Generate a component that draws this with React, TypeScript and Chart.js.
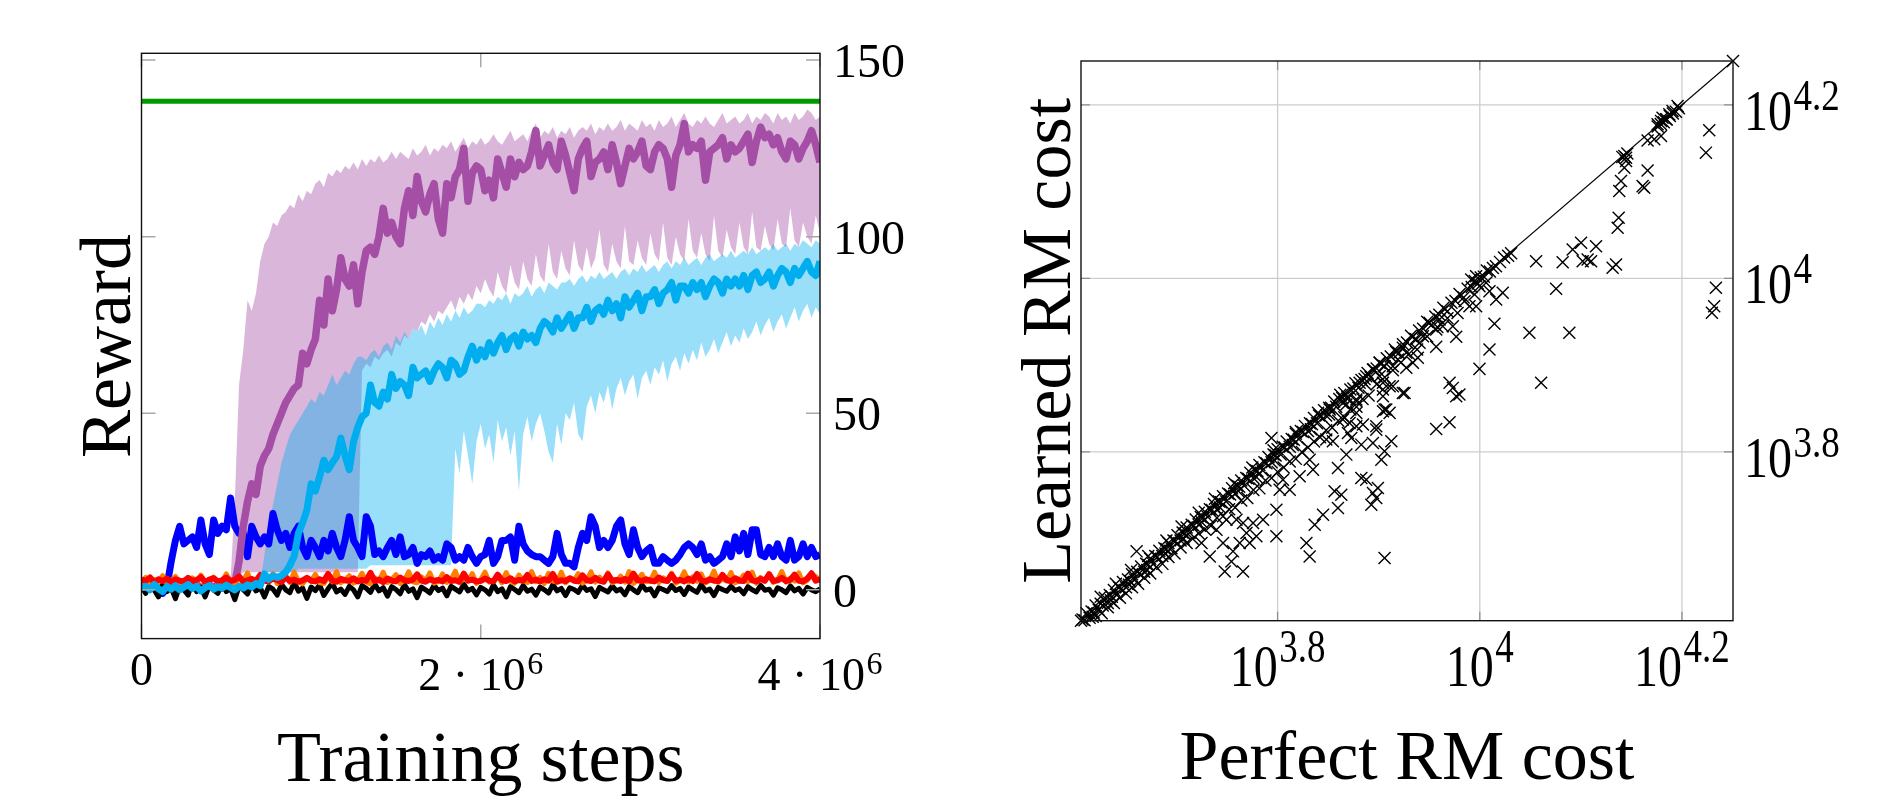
import React, { useEffect, useRef } from 'react';
import { Chart, registerables } from 'chart.js';

Chart.register(...registerables);

const SERIF = '"Liberation Serif", "Times New Roman", Times, serif';

// ---------------- Left chart: reward vs training steps ----------------
const trainingStepsK = [
  0, 25, 50, 75, 100, 125, 150, 175, 200, 225,
  250, 275, 300, 325, 350, 375, 400, 425, 450, 475,
  500, 525, 550, 575, 600, 625, 650, 675, 700, 725,
  750, 775, 800, 825, 850, 875, 900, 925, 950, 975,
  1000, 1025, 1050, 1075, 1100, 1125, 1150, 1175, 1200, 1225,
  1250, 1275, 1300, 1325, 1350, 1375, 1400, 1425, 1450, 1475,
  1500, 1525, 1550, 1575, 1600, 1625, 1650, 1675, 1700, 1725,
  1750, 1775, 1800, 1825, 1850, 1875, 1900, 1925, 1950, 1975,
  2000, 2025, 2050, 2075, 2100, 2125, 2150, 2175, 2200, 2225,
  2250, 2275, 2300, 2325, 2350, 2375, 2400, 2425, 2450, 2475,
  2500, 2525, 2550, 2575, 2600, 2625, 2650, 2675, 2700, 2725,
  2750, 2775, 2800, 2825, 2850, 2875, 2900, 2925, 2950, 2975,
  3000, 3025, 3050, 3075, 3100, 3125, 3150, 3175, 3200, 3225,
  3250, 3275, 3300, 3325, 3350, 3375, 3400, 3425, 3450, 3475,
  3500, 3525, 3550, 3575, 3600, 3625, 3650, 3675, 3700, 3725,
  3750, 3775, 3800, 3825, 3850, 3875, 3900, 3925, 3950, 3975,
  4000,
];

const greenStepsK = [0, 4000];
const greenReward = [138.3, 138.3];

const purpleMean = [
  1, 0.5, 1.5, 0.8, 1.2, 0.3, 1, 1.6, 0.7, 1.1,
  0.4, 1.3, 0.9, 1.5, 0.6, 1, 1.4, 0.8, 1.2, 0.5,
  1.6, 1, 1.8, 8, 18, 25, 30, 27, 35, 38,
  40, 44, 47, 50, 53, 55, 57, 58, 67, 64,
  68, 71, 82, 75, 88, 79, 85, 94, 88, 86,
  92, 81, 90, 96, 97, 95, 100, 108, 101, 104,
  100, 98, 108, 113, 106, 117, 110, 107, 112, 115,
  105, 101, 115, 111, 117, 119, 125, 110, 118, 120,
  119, 113, 116, 111, 122, 118, 114, 122, 117, 121,
  119, 120, 124, 130, 120, 123, 126, 121, 119, 127,
  123, 118, 113, 122, 125, 127, 117, 121, 122, 124,
  119, 126, 121, 115, 120, 125, 122, 124, 127, 120,
  119, 124, 126, 125, 122, 114, 123, 126, 132, 124,
  126, 125, 127, 116, 124, 125, 126, 128, 122, 126,
  124, 125, 127, 129, 121, 127, 131, 128, 129, 126,
  128, 124, 122, 127, 126, 122, 125, 127, 130, 126,
  121,
];
const purpleUpper = [
  2, 1.5, 2.5, 2, 2.2, 1.5, 2, 2.6, 1.8, 2.1,
  1.5, 2.3, 2, 2.5, 1.6, 2, 2.4, 1.9, 2.2, 1.5,
  2.6, 3, 25, 58, 68, 82, 79, 84, 93, 98,
  100, 104, 103, 106, 107, 109, 108, 112, 110, 113,
  112, 115, 116, 114, 118, 117, 119, 118, 120, 119,
  121, 119, 122, 120, 122, 121, 123, 121, 122, 124,
  122, 124, 123, 122, 125, 123, 124, 126, 123, 125,
  124, 126, 125, 127, 124, 126, 128, 125, 127, 126,
  128, 126, 127, 129, 127, 126, 128, 130, 127, 128,
  129, 127, 130, 132, 128, 130, 129, 131, 128, 130,
  129, 131, 128, 130, 131, 130, 132, 129, 131, 130,
  132, 130, 131, 133, 130, 132, 131, 130, 133, 131,
  132, 130, 133, 131, 132, 134, 131, 133, 135, 132,
  131, 133, 132, 134, 132, 131, 133, 135, 132, 133,
  134, 132, 133, 135, 132, 134, 133, 135, 134, 132,
  135, 133, 134, 132, 135, 133, 134, 136, 135, 133,
  134,
];
const purpleLower = [
  0, -0.5, 0.5, 0, 0.2, -0.5, 0, 0.6, -0.2, 0.1,
  -0.5, 0.3, 0, 0.5, -0.4, 0, 0.4, -0.1, 0.2, -0.5,
  0.6, 0, 1, 4, 5, 5, 5, 5, 5, 5,
  5, 5, 5, 5, 5, 5, 5, 5, 5, 5,
  5, 5, 5, 5, 5, 5, 5, 5, 5, 5,
  5, 5, 62, 64, 63, 66, 65, 67, 68, 66,
  70, 69, 72, 71, 74, 73, 76, 75, 78, 76,
  79, 78, 80, 82, 79, 83, 81, 84, 82, 86,
  84, 88, 85, 83, 90, 86, 84, 92, 87, 85,
  93, 88, 86, 95, 89, 87, 98, 90, 88, 96,
  91, 89, 99, 92, 90, 97, 91, 94, 102, 92,
  90, 98, 93, 91, 103, 93, 92, 99, 94, 92,
  101, 95, 93, 104, 94, 92, 100, 95, 93, 105,
  96, 94, 101, 95, 93, 106, 96, 94, 102, 97,
  95, 104, 97, 95, 107, 97, 96, 103, 98, 96,
  105, 98, 97, 108, 99, 97, 104, 100, 98, 106,
  101,
];

const cyanMean = [
  0.5, 1, 0, 1.5, 0.3, -0.5, 1, 0.2, 1.2, 0,
  0.8, 1.5, 0.4, 1, -0.3, 0.6, 1.2, 0.2, 0.9, 0.5,
  1.3, 0.7, 0, 1, 0.5, 1.4, 0.8, 1.8, 1.2, 4.5,
  3, 4, 3.5, 4, 5, 7, 9.5, 16, 19, 22.6,
  30, 28, 32, 36.7, 34, 36, 37.7, 43, 38, 34,
  42, 46, 49, 50, 58, 53, 52, 56, 54, 61,
  57, 59, 58, 55, 63, 60, 61, 62, 59, 62,
  64, 63, 60, 65, 64, 61, 62, 66, 69, 65,
  68, 66, 70, 67, 70, 72, 68, 71, 72, 69,
  73, 71, 72, 70, 74, 76, 75, 73, 77, 74,
  76, 78, 74, 77, 77, 80, 76, 79, 80, 78,
  82, 79, 81, 77, 83, 80, 82, 84, 79, 83,
  83, 85, 81, 84, 85, 87, 82, 86, 86, 84,
  87, 85, 87, 83, 86, 88, 87, 84, 88, 86,
  88, 86, 89, 85, 89, 90, 87, 88, 90, 86,
  89, 91, 90, 87, 91, 89, 91, 93, 90, 89,
  93,
];
const cyanUpper = [
  1.5, 2, 1, 2.5, 1.3, 0.5, 2, 1.2, 2.2, 1,
  1.8, 2.5, 1.4, 2, 0.7, 1.6, 2.2, 1.2, 1.9, 1.5,
  2.3, 1.7, 1, 2, 1.5, 2.4, 1.8, 2.8, 2.2, 10,
  18, 24, 30, 36, 40, 44, 46, 48, 50, 52,
  54, 53, 56, 55, 58, 61, 58, 60, 62, 61,
  64, 66, 66, 65, 67, 68, 66, 69, 70, 68,
  72, 70, 73, 71, 74, 73, 75, 72, 76, 74,
  77, 75, 78, 76, 79, 77, 80, 78, 79, 81,
  81, 80, 82, 81, 83, 82, 84, 81, 84, 83,
  84, 86, 83, 85, 86, 84, 87, 86, 85, 87,
  87, 88, 86, 88, 89, 87, 89, 88, 90, 88,
  89, 90, 88, 90, 91, 89, 91, 90, 92, 90,
  91, 92, 90, 92, 93, 91, 93, 92, 94, 92,
  93, 94, 92, 94, 95, 93, 94, 95, 94, 96,
  94, 95, 96, 95, 97, 95, 96, 97, 96, 98,
  96, 97, 98, 96, 98, 97, 99, 98, 97, 99,
  98,
];
const cyanLower = [
  -0.5, 0, -1, 0.5, -0.7, -1.5, 0, -0.8, 0.2, -1,
  -0.2, 0.5, -0.6, 0, -1.3, -0.4, 0.2, -0.8, -0.1, -0.5,
  0.3, -0.3, -1, 0, -0.5, 0.4, -0.2, 0.8, 0.2, 5,
  5, 5, 5, 5, 5, 5, 5, 6, 6, 6,
  6, 6, 6, 6, 6, 6, 6, 6, 6, 6,
  6, 6, 6, 6, 7, 7, 7, 7, 7, 7,
  7, 7, 7, 7, 7, 7, 7, 7, 7, 7,
  7, 7, 7, 7, 40, 33, 45, 38, 30, 42,
  47, 40, 44, 36, 48, 42, 46, 38, 45, 28,
  44, 49, 42, 47, 50, 45, 39, 36, 47, 41,
  50, 48, 53, 44, 42, 52, 55, 50, 56, 53,
  58, 51, 57, 60, 55, 59, 61, 54, 60, 62,
  58, 63, 61, 65, 59, 64, 66, 62, 67, 64,
  68, 65, 70, 66, 68, 71, 67, 70, 73, 69,
  72, 70, 74, 71, 73, 76, 72, 75, 77, 73,
  76, 78, 74, 77, 80, 76, 79, 81, 77, 80,
  78,
];

const blueReward = [
  2, 1, 3, 0.5, 2, -1, 1, 8, 14, 18,
  13, 14, 15, 12, 19.8, 13, 10, 19.8, 16, 18,
  17, 26, 18, 16, 16, 9.4, 18, 15, 13, 15,
  13, 21.6, 17, 14, 16, 12, 16, 18, 12, 9.4,
  14, 12, 9.4, 14, 11, 16, 12, 9.4, 14, 20.7,
  14, 12, 9.4, 20.7, 18, 10, 11, 9.4, 12, 14,
  10, 15, 9.4, 10, 12, 7.5, 10, 9.4, 11, 8.4,
  9.4, 8.4, 13, 12, 8.4, 9.4, 8.4, 12, 9.4, 7.5,
  9.4, 10, 14, 7.5, 9.4, 14, 14, 15, 8.4, 18,
  13, 11, 10, 9.4, 9.4, 8.4, 7.5, 9.4, 16, 10,
  7.5, 7.5, 6.5, 12, 16, 14, 20.7, 18, 12, 14,
  12, 14, 18, 19.8, 13, 10, 17, 12, 9.4, 11,
  12, 7.5, 7.5, 9.4, 8.4, 7.5, 8.4, 10, 12, 13,
  12, 10, 13, 8.4, 9.4, 7.5, 8.4, 9.4, 13, 9.4,
  15, 11, 16, 10, 17, 17, 10, 9.4, 12, 9.4,
  13, 9.4, 8.4, 14, 8.4, 9.4, 13, 9.4, 12, 9.4,
  10,
];
const redReward = [
  3, 2.5, 3.5, 2, 3, 2.5, 3.2, 2.2, 3, 2.6,
  2.4, 3.4, 2.5, 2.8, 3.6, 2.2, 2.9, 3.3, 2.4, 2.7,
  3.5, 2.5, 2.8, 3.8, 2.3, 2.7, 3.1, 2.5, 4.2, 2.6,
  2.4, 3.2, 2.8, 2.2, 3.6, 2.5, 2.9, 2.3, 2.7, 3.4,
  2.6, 2.4, 3, 2.5, 4.5, 2.6, 2.3, 3.1, 2.7, 2.5,
  3.3, 2.4, 2.8, 2.6, 4.8, 2.5, 2.9, 2.2, 3.2, 2.6,
  2.4, 3.5, 2.7, 2.5, 2.9, 4.4, 2.6, 2.3, 3, 2.5,
  2.8, 2.4, 3.6, 2.5, 2.7, 2.3, 4.6, 2.6, 2.9, 2.4,
  2.5, 3.2, 2.6, 2.4, 4.3, 2.7, 2.5, 3.3, 2.4, 2.8,
  2.6, 4.2, 2.5, 2.9, 2.4, 3, 2.6, 4.5, 2.3, 2.7,
  2.5, 3.3, 2.6, 2.4, 4.1, 2.7, 2.5, 3.4, 2.6, 2.3,
  4.4, 2.6, 2.8, 2.5, 3.1, 2.4, 4.6, 2.7, 2.5, 3,
  2.6, 2.4, 3.5, 2.7, 2.5, 4.3, 2.6, 2.8, 2.4, 3.2,
  2.5, 4.5, 2.7, 2.4, 3, 2.6, 2.5, 4.2, 2.8, 2.4,
  3.3, 2.6, 2.5, 4.6, 2.7, 2.4, 3.1, 2.6, 4.4, 2.5,
  2.7, 3.4, 2.5, 2.8, 4.3, 2.6, 2.4, 3.2, 4.7, 2.6,
  3,
];
const orangeReward = [
  2, 3.5, 1.5, 3, 2.2, 4, 1.8, 2.6, 3.8, 2,
  2.8, 1.6, 3.4, 2.2, 4.2, 1.9, 2.7, 3.6, 2, 2.5,
  4.5, 2.1, 1.7, 3.2, 2.4, 4.8, 2, 2.9, 1.6, 3.5,
  2.2, 4.6, 1.8, 2.7, 3.9, 2.1, 5, 2.4, 1.7, 3.3,
  2.5, 4.4, 2, 1.8, 3.6, 2.3, 5.2, 2, 2.8, 4,
  1.9, 2.6, 4.7, 2.2, 1.7, 3.4, 2.5, 5, 2.1, 2.9,
  4.3, 1.8, 2.7, 5.1, 2.3, 2, 3.7, 2.6, 4.8, 1.9,
  2.4, 4.5, 2.1, 2.8, 5.3, 2, 3.2, 2.5, 4.6, 1.8,
  2.9, 5, 2.2, 2.6, 3.8, 2, 4.9, 2.4, 1.9, 4.2,
  2.6, 2.1, 5.2, 2.3, 3.5, 1.8, 4.7, 2.5, 2.2, 5,
  2, 3.3, 2.6, 4.6, 1.9, 2.7, 5.1, 2.2, 3.6, 2.4,
  4.8, 2, 2.5, 3.9, 2.2, 5.2, 1.8, 2.9, 4.4, 2.3,
  2.6, 5, 2.1, 3.4, 2.5, 4.7, 1.9, 2.8, 5.1, 2.2,
  3.7, 2.4, 4.5, 2, 2.7, 5.3, 2.1, 3.1, 2.5, 4.9,
  2, 2.6, 4.2, 2.3, 5, 1.9, 3.5, 2.4, 4.6, 2.1,
  2.8, 5.2, 2.2, 3.3, 2.5, 4.8, 2, 2.7, 4.4, 3.8,
  2.5,
];
const blackReward = [
  1, -1, 2, 0, -2, 1.5, -0.5, 0.5, -2.5, 1,
  0, -1.5, 2.5, -0.5, 0.8, -2, 1.2, 0, -1, 2,
  -0.5, 0.5, -2.8, 1, 0, -1.2, 1.8, -0.3, 0.6, -2,
  1, 0.2, -1.5, 1.6, 0, -0.8, 2.2, -0.4, 0.5, -2.4,
  0.8, -0.2, 1.4, -1.6, 0.3, 1.9, -0.6, 0.2, -1.3, 1,
  0, -2, 1.2, 0.4, -0.7, 1.7, -0.3, 0.6, -1.8, 0.9,
  0.1, -1.1, 1.5, -0.4, 0.3, -2.2, 0.8, 0, -0.9, 1.3,
  -0.2, 0.5, -1.7, 1, 0.2, -0.6, 1.6, -0.3, 0.4, -1.4,
  0.7, 0, -1.2, 1.4, -0.5, 0.3, -2, 0.9, 0.1, -0.8,
  1.2, -0.4, 0.2, -1.5, 0.8, 0, -0.9, 1.5, -0.3, 0.4,
  -1.6, 0.6, 0.1, -0.7, 1.3, -0.2, 0.3, -1.9, 0.7, 0,
  -0.6, 1.1, -0.3, 0.2, -1.4, 0.9, 0, -0.8, 1.4, -0.1,
  0.3, -1.7, 0.6, 0.1, -0.5, 1.2, -0.2, 0.4, -1.3, 0.8,
  0, -0.7, 1.5, -0.3, 0.2, -1.6, 0.7, 0.1, -0.4, 1,
  -0.2, 0.3, -1.1, 0.9, 0, -0.6, 1.3, -0.1, 0.2, -1.5,
  0.6, 0, -0.8, 1.1, -0.3, 0.4, -1.2, 0.7, 0, -0.5,
  0.3,
];

const rewardTicks = [0, 50, 100, 150];
const rewardTickLabels = ['0', '50', '100', '150'];
const stepTicksK = [0, 2000, 4000];
const stepTickBase = ['0', '2 · 10', '4 · 10'];
const stepTickExp = ['', '6', '6'];
const rewardRange = [-13.8, 151.9];
const stepRangeK = [0, 4000];
const rewardTitle = 'Reward';
const stepsTitle = 'Training steps';

// ---------------- Right chart: learned vs perfect RM cost (log10 values) ----------------
const costAxisLog10 = [3.6055, 4.2505];
const costTickLog10 = [3.8, 4, 4.2];
const costTickBase = ['10', '10', '10'];
const costTickExp = ['3.8', '4', '4.2'];
const perfectTitle = 'Perfect RM cost';
const learnedTitle = 'Learned RM cost';

// [log10 perfect cost, log10 learned cost]
const nearDiagonal: [number, number][] = [
  [3.607, 3.607], [3.609, 3.606], [3.611, 3.614], [3.614, 3.609], [3.616, 3.616], [3.618, 3.615], [3.620, 3.623], [3.623, 3.618],
  [3.625, 3.625], [3.627, 3.623], [3.629, 3.632], [3.632, 3.626], [3.634, 3.635], [3.636, 3.633], [3.638, 3.641], [3.641, 3.635],
  [3.643, 3.644], [3.645, 3.642], [3.647, 3.650], [3.650, 3.644], [3.652, 3.653], [3.654, 3.651], [3.656, 3.659], [3.659, 3.653],
  [3.661, 3.662], [3.663, 3.660], [3.665, 3.668], [3.668, 3.662], [3.670, 3.671], [3.672, 3.670], [3.674, 3.677], [3.677, 3.671],
  [3.679, 3.680], [3.681, 3.679], [3.683, 3.686], [3.686, 3.680], [3.688, 3.689], [3.690, 3.688], [3.692, 3.695], [3.695, 3.689],
  [3.697, 3.698], [3.699, 3.697], [3.701, 3.704], [3.704, 3.698], [3.706, 3.707], [3.708, 3.706], [3.710, 3.713], [3.713, 3.707],
  [3.715, 3.716], [3.717, 3.715], [3.719, 3.722], [3.722, 3.716], [3.724, 3.725], [3.726, 3.724], [3.728, 3.731], [3.731, 3.725],
  [3.733, 3.734], [3.735, 3.733], [3.737, 3.740], [3.740, 3.734], [3.742, 3.743], [3.744, 3.742], [3.746, 3.749], [3.749, 3.743],
  [3.751, 3.752], [3.753, 3.751], [3.755, 3.758], [3.758, 3.752], [3.760, 3.761], [3.762, 3.760], [3.764, 3.767], [3.767, 3.761],
  [3.769, 3.770], [3.771, 3.769], [3.773, 3.776], [3.776, 3.770], [3.778, 3.779], [3.780, 3.778], [3.782, 3.785], [3.785, 3.779],
  [3.787, 3.788], [3.789, 3.787], [3.791, 3.794], [3.794, 3.788], [3.796, 3.797], [3.798, 3.796], [3.800, 3.803], [3.803, 3.797],
  [3.805, 3.806], [3.807, 3.805], [3.809, 3.812], [3.812, 3.806], [3.814, 3.815], [3.816, 3.814], [3.818, 3.821], [3.821, 3.815],
  [3.823, 3.824], [3.825, 3.823], [3.827, 3.830], [3.830, 3.824], [3.832, 3.833], [3.834, 3.832], [3.836, 3.839], [3.839, 3.833],
  [3.841, 3.842], [3.843, 3.841], [3.846, 3.848], [3.848, 3.842], [3.851, 3.851], [3.853, 3.851], [3.856, 3.858], [3.858, 3.852],
  [3.861, 3.861], [3.864, 3.862], [3.866, 3.868], [3.869, 3.863], [3.872, 3.872], [3.875, 3.873], [3.877, 3.879], [3.880, 3.874],
  [3.883, 3.883], [3.886, 3.884], [3.889, 3.891], [3.892, 3.886], [3.895, 3.895], [3.898, 3.896], [3.901, 3.903], [3.905, 3.899],
  [3.908, 3.908], [3.912, 3.910], [3.916, 3.918], [3.920, 3.914], [3.924, 3.924], [3.928, 3.926], [3.932, 3.934], [3.936, 3.930],
  [3.940, 3.940], [3.944, 3.942], [3.948, 3.950], [3.952, 3.946], [3.956, 3.956], [3.960, 3.958], [3.964, 3.966], [3.968, 3.962],
  [3.972, 3.972], [3.976, 3.974], [3.980, 3.982], [3.984, 3.978], [3.988, 3.988], [3.992, 3.990], [3.995, 3.997], [3.998, 3.994],
  [4.001, 4.001], [4.004, 4.002], [4.007, 4.009],
  [3.620, 3.611], [3.626, 3.614], [3.632, 3.621], [3.638, 3.626], [3.644, 3.632], [3.650, 3.637], [3.656, 3.644], [3.662, 3.648],
  [3.668, 3.655], [3.674, 3.660], [3.680, 3.667], [3.686, 3.671], [3.692, 3.679], [3.698, 3.683], [3.704, 3.690], [3.710, 3.695],
  [3.716, 3.700], [3.722, 3.706], [3.728, 3.711], [3.734, 3.715], [3.740, 3.724], [3.746, 3.726], [3.752, 3.734], [3.758, 3.736],
  [3.764, 3.744], [3.770, 3.747], [3.776, 3.756], [3.782, 3.758], [3.788, 3.767], [3.794, 3.770], [3.800, 3.777], [3.806, 3.782],
  [3.812, 3.789], [3.818, 3.792], [3.824, 3.800], [3.830, 3.805], [3.836, 3.812], [3.842, 3.817], [3.848, 3.825], [3.854, 3.828],
  [3.860, 3.836], [3.866, 3.840], [3.872, 3.849], [3.878, 3.852], [3.884, 3.861], [3.890, 3.865], [3.898, 3.878], [3.906, 3.886],
  [3.914, 3.894], [3.922, 3.903], [3.930, 3.913], [3.938, 3.918], [3.948, 3.933], [3.958, 3.944], [3.968, 3.954], [3.978, 3.960],
  [3.625, 3.633], [3.640, 3.648], [3.655, 3.664], [3.672, 3.680], [3.690, 3.698], [3.705, 3.714], [3.722, 3.730], [3.738, 3.746],
  [3.757, 3.764], [3.775, 3.782], [3.796, 3.802], [3.818, 3.823], [3.840, 3.845], [3.862, 3.866],
  [3.617, 3.610], [3.635, 3.629], [3.653, 3.647], [3.671, 3.664], [3.689, 3.683], [3.707, 3.700], [3.725, 3.719], [3.743, 3.736],
  [3.761, 3.755], [3.779, 3.771], [3.797, 3.790], [3.815, 3.808], [3.833, 3.826], [3.851, 3.843], [3.869, 3.861], [3.887, 3.878],
  [4.010, 4.008], [4.013, 4.012], [4.016, 4.014], [4.020, 4.019], [4.024, 4.024], [4.028, 4.026], [4.031, 4.029],
  [4.141, 4.140], [4.143, 4.141], [4.146, 4.144], [4.176, 4.175], [4.179, 4.178], [4.182, 4.180], [4.185, 4.183],
  [4.188, 4.187], [4.191, 4.190], [4.194, 4.192], [4.197, 4.196],
];

const offDiagonal: [number, number][] = [
  [3.6605, 3.6854], [3.7939, 3.8161], [3.7988, 3.7334], [3.7988, 3.7027], [3.7329, 3.6796], [3.7477, 3.6623],
  [3.7658, 3.6623], [3.7543, 3.6738], [3.7559, 3.6854], [3.746, 3.695], [3.7625, 3.695], [3.7724, 3.695],
  [3.779, 3.7027], [3.7692, 3.7066], [3.7247, 3.695], [3.7395, 3.7104], [3.7494, 3.7219], [3.7593, 3.7219],
  [3.7658, 3.7181], [3.7757, 3.7181], [3.7856, 3.7219], [3.8021, 3.7565], [3.812, 3.7565], [3.8053, 3.768],
  [3.8218, 3.7719], [3.835, 3.7796], [3.8317, 3.7911], [3.8285, 3.695], [3.8317, 3.6796], [3.8367, 3.7161],
  [3.8449, 3.7277], [3.8597, 3.7354], [3.8564, 3.7546], [3.863, 3.7507], [3.8597, 3.7815], [3.868, 3.7969],
  [3.8828, 3.77], [3.8877, 3.768], [3.8943, 3.7527], [3.8992, 3.7585], [3.8976, 3.7469], [3.8927, 3.7392],
  [3.9058, 3.6777], [3.9026, 3.7911], [3.9058, 3.8007], [3.9125, 3.8122], [3.8943, 3.8104], [3.8976, 3.8257],
  [3.8828, 3.8084], [3.8729, 3.8161], [3.8779, 3.8295], [3.8844, 3.8315], [3.8696, 3.8219], [3.8646, 3.8373],
  [3.8547, 3.8122], [3.8482, 3.8142], [3.9058, 3.8488], [3.9108, 3.845], [3.9042, 3.8641], [3.914, 3.8757],
  [3.9256, 3.868], [3.8779, 3.8584], [3.868, 3.8546],
  [4.0557, 4.0198], [4.082, 4.0187], [4.0919, 4.0333], [4.1002, 4.0411], [4.1018, 4.0198], [4.1067, 4.0218],
  [4.0755, 3.988], [4.0491, 3.9373], [4.0886, 3.9373], [4.0607, 3.8796], [4.0145, 3.9476], [4.0096, 3.918],
  [3.9997, 3.8957], [3.9767, 3.9326], [3.9569, 3.9211], [3.9733, 3.9449], [3.9701, 3.8796], [3.9733, 3.8738],
  [3.9799, 3.8661], [3.9767, 3.8641], [3.9239, 3.868], [3.9075, 3.8488], [3.9042, 3.8468], [3.9108, 3.8757],
  [3.9042, 3.8719], [3.8976, 3.8295], [3.9569, 3.8265], [3.9701, 3.8341], [4.0227, 3.9834], [4.0162, 3.9757],
  [4.0096, 3.9852], [3.9964, 3.9679], [3.9898, 3.9679], [3.9849, 3.9737], [3.9948, 3.9814], [3.9997, 3.991],
  [4.0063, 3.9949], [3.9964, 4.0025], [3.9915, 3.9987], [3.9338, 3.9027], [3.9387, 3.9084], [3.9273, 3.8969],
  [3.9372, 3.9295], [3.9239, 3.92], [3.9174, 3.915], [3.9602, 3.9526], [3.9634, 3.9449], [3.9569, 3.9411],
  [3.9503, 3.9488], [3.9437, 3.9333], [3.9404, 3.9257], [3.9273, 3.9142], [3.919, 3.9065], [3.914, 3.8987],
  [3.9058, 3.8987], [3.8943, 3.8949], [3.8877, 3.8872], [3.8811, 3.8796], [3.9009, 3.9027], [3.9009, 3.8872],
  [3.9042, 3.8796], [3.8779, 3.8603], [3.8646, 3.8565], [3.8515, 3.8488], [3.8779, 3.845], [3.8712, 3.8334],
  [4.1101, 4.0198], [4.115, 4.0371], [4.1314, 4.0122], [4.1348, 4.016], [4.1364, 4.0584], [4.1374, 4.0699],
  [4.138, 4.1006], [4.1397, 4.1121], [4.143, 4.1276], [4.1447, 4.1352], [4.1447, 4.1391], [4.1611, 4.1063],
  [4.1627, 4.1045], [4.166, 4.1244], [4.166, 4.159], [4.1726, 4.1602], [4.1793, 4.164], [4.1759, 4.1775],
  [4.1793, 4.1813], [4.1808, 4.1852], [4.1842, 4.1833], [4.1875, 4.189], [4.1907, 4.1929], [4.1957, 4.1986],
  [4.227, 4.1706], [4.2237, 4.1449], [4.2336, 3.9892], [4.2319, 3.9679], [4.2296, 3.9603],
];

// ---------------- helpers ----------------
const pts = (xs: number[], ys: number[]) => ys.map((y, i) => ({ x: xs[i], y }));
const logPts = (pairs: [number, number][]) => pairs.map(([a, b]) => ({ x: Math.pow(10, a), y: Math.pow(10, b) }));

function drawText(ctx: CanvasRenderingContext2D, s: string, x: number, y: number, font: string, sy = 1) {
  ctx.save();
  ctx.translate(x, y);
  ctx.scale(1, sy);
  ctx.font = font;
  ctx.textAlign = 'left';
  ctx.textBaseline = 'alphabetic';
  ctx.fillText(s, 0, 0);
  ctx.restore();
}

function drawPow(
  ctx: CanvasRenderingContext2D, base: string, exp: string, x: number, align: 'left' | 'center',
  baseY: number, expY: number, baseFont: string, expFont: string, sy = 1,
) {
  ctx.font = baseFont;
  const wb = ctx.measureText(base).width;
  ctx.font = expFont;
  const we = exp ? ctx.measureText(exp).width : 0;
  const gap = exp ? 1.5 : 0;
  const total = wb + gap + we;
  const x0 = align === 'center' ? x - total / 2 : x;
  drawText(ctx, base, x0, baseY, baseFont, sy);
  if (exp) drawText(ctx, exp, x0 + wb + gap, expY, expFont, sy);
}

function drawRotated(ctx: CanvasRenderingContext2D, s: string, x: number, y: number, font: string) {
  ctx.save();
  ctx.translate(x, y);
  ctx.rotate(-Math.PI / 2);
  ctx.font = font;
  ctx.textAlign = 'center';
  ctx.textBaseline = 'alphabetic';
  ctx.fillText(s, 0, 0);
  ctx.restore();
}

const leftDecor = {
  id: 'leftDecor',
  afterDatasetsDraw(chart: any) {
    const { ctx, chartArea: a } = chart;
    const xs = chart.scales.x;
    const ys = chart.scales.y;
    ctx.save();
    ctx.strokeStyle = '#a8a8a8';
    ctx.lineWidth = 1.5;
    ctx.beginPath();
    rewardTicks.forEach((v) => {
      const p = ys.getPixelForValue(v);
      ctx.moveTo(a.left, p); ctx.lineTo(a.left + 14, p);
      ctx.moveTo(a.right - 14, p); ctx.lineTo(a.right, p);
    });
    stepTicksK.forEach((v) => {
      const p = xs.getPixelForValue(v);
      ctx.moveTo(p, a.bottom); ctx.lineTo(p, a.bottom - 14);
      ctx.moveTo(p, a.top); ctx.lineTo(p, a.top + 14);
    });
    ctx.stroke();
    ctx.strokeStyle = '#111';
    ctx.lineWidth = 1.4;
    ctx.strokeRect(a.left, a.top, a.right - a.left, a.bottom - a.top);

    ctx.fillStyle = '#000';
    rewardTicks.forEach((v, i) => {
      const p = ys.getPixelForValue(v);
      drawText(ctx, rewardTickLabels[i], a.right + 13, p + 17, `48px ${SERIF}`);
    });
    stepTicksK.forEach((v, i) => {
      const p = xs.getPixelForValue(v);
      const hasExp = stepTickExp[i] !== '';
      drawPow(ctx, stepTickBase[i], stepTickExp[i], p, 'center',
        a.bottom + (hasExp ? 51 : 46.5), a.bottom + 35, `46px ${SERIF}`, `32px ${SERIF}`);
    });
    drawRotated(ctx, rewardTitle, a.left - 11.5, (a.top + a.bottom) / 2, `72px ${SERIF}`);
    ctx.font = `72px ${SERIF}`;
    ctx.textAlign = 'center';
    ctx.textBaseline = 'alphabetic';
    ctx.fillText(stepsTitle, (a.left + a.right) / 2, 781);
    ctx.restore();
  },
};

const rightDecor = {
  id: 'rightDecor',
  beforeDatasetsDraw(chart: any) {
    const { ctx, chartArea: a } = chart;
    const xs = chart.scales.x;
    const ys = chart.scales.y;
    ctx.save();
    ctx.strokeStyle = '#cdcdcd';
    ctx.lineWidth = 1.3;
    ctx.beginPath();
    costTickLog10.forEach((l) => {
      const px = xs.getPixelForValue(Math.pow(10, l));
      const py = ys.getPixelForValue(Math.pow(10, l));
      ctx.moveTo(px, a.top); ctx.lineTo(px, a.bottom);
      ctx.moveTo(a.left, py); ctx.lineTo(a.right, py);
    });
    ctx.stroke();
    ctx.strokeStyle = '#8f8f8f';
    ctx.beginPath();
    costTickLog10.forEach((l) => {
      const px = xs.getPixelForValue(Math.pow(10, l));
      const py = ys.getPixelForValue(Math.pow(10, l));
      ctx.moveTo(px, a.bottom); ctx.lineTo(px, a.bottom - 9);
      ctx.moveTo(px, a.top); ctx.lineTo(px, a.top + 9);
      ctx.moveTo(a.left, py); ctx.lineTo(a.left + 9, py);
      ctx.moveTo(a.right - 9, py); ctx.lineTo(a.right, py);
    });
    ctx.stroke();
    ctx.restore();
  },
  afterDatasetsDraw(chart: any) {
    const { ctx, chartArea: a } = chart;
    const xs = chart.scales.x;
    const ys = chart.scales.y;
    ctx.save();
    ctx.strokeStyle = '#111';
    ctx.lineWidth = 1.4;
    ctx.strokeRect(a.left, a.top, a.right - a.left, a.bottom - a.top);
    ctx.fillStyle = '#000';
    costTickLog10.forEach((l, i) => {
      const px = xs.getPixelForValue(Math.pow(10, l));
      drawPow(ctx, costTickBase[i], costTickExp[i], px, 'center',
        a.bottom + 65.3, a.bottom + 41.6, `48px ${SERIF}`, `37px ${SERIF}`, 1.25);
      const py = ys.getPixelForValue(Math.pow(10, l));
      drawPow(ctx, costTickBase[i], costTickExp[i], a.right + 11, 'left',
        py + 25, py + 5, `48px ${SERIF}`, `37px ${SERIF}`, 1.2);
    });
    drawRotated(ctx, learnedTitle, a.left - 11, (a.top + a.bottom) / 2, `70px ${SERIF}`);
    ctx.font = `70px ${SERIF}`;
    ctx.textAlign = 'center';
    ctx.textBaseline = 'alphabetic';
    ctx.fillText(perfectTitle, (a.left + a.right) / 2, 779);
    ctx.restore();
  },
};

function lineDs(label: string, data: any[], color: string, width: number, order: number) {
  return {
    label, data, borderColor: color, backgroundColor: color, borderWidth: width,
    pointRadius: 0, pointHoverRadius: 0, tension: 0, fill: false, order, clip: 0,
    borderJoinStyle: 'round' as const, borderCapStyle: 'butt' as const,
  };
}
function bandDs(label: string, data: any[], color: string, fillNext: boolean, order: number) {
  return {
    label, data, borderWidth: 0, borderColor: 'rgba(0,0,0,0)', backgroundColor: color,
    pointRadius: 0, pointHoverRadius: 0, tension: 0, fill: fillNext ? '+1' : false, order, clip: 0,
  };
}

export default function App() {
  const leftRef = useRef<HTMLCanvasElement | null>(null);
  const rightRef = useRef<HTMLCanvasElement | null>(null);

  useEffect(() => {
    if (!leftRef.current || !rightRef.current) return;
    const PURPLE = '#a54ea5';
    const CYAN = '#00aeef';
    const left = new Chart(leftRef.current, {
      type: 'line',
      data: {
        datasets: [
          lineDs('Green', pts(greenStepsK, greenReward), '#009a00', 5, 0),
          lineDs('Cyan', pts(trainingStepsK, cyanMean), CYAN, 7, 1),
          lineDs('Red', pts(trainingStepsK, redReward), '#ff0000', 6, 2),
          lineDs('Orange', pts(trainingStepsK, orangeReward), '#ff8000', 5, 3),
          lineDs('Black', pts(trainingStepsK, blackReward), '#000000', 5, 4),
          lineDs('Purple', pts(trainingStepsK, purpleMean), PURPLE, 7.5, 5),
          lineDs('Blue', pts(trainingStepsK, blueReward), '#0000ff', 7, 6),
          bandDs('Cyan upper', pts(trainingStepsK, cyanUpper), 'rgba(0,174,239,0.4)', true, 10),
          bandDs('Cyan lower', pts(trainingStepsK, cyanLower), 'rgba(0,174,239,0.4)', false, 10),
          bandDs('Purple upper', pts(trainingStepsK, purpleUpper), 'rgba(163,73,164,0.4)', true, 11),
          bandDs('Purple lower', pts(trainingStepsK, purpleLower), 'rgba(163,73,164,0.4)', false, 11),
        ] as any,
      },
      options: {
        responsive: false,
        animation: false,
        devicePixelRatio: 1,
        layout: { padding: { left: 141.5, top: 53.3, right: 132, bottom: 157.4 }, autoPadding: false },
        plugins: { legend: { display: false }, tooltip: { enabled: false }, title: { display: false } },
        scales: {
          x: { type: 'linear', min: stepRangeK[0], max: stepRangeK[1], display: false },
          y: { type: 'linear', min: rewardRange[0], max: rewardRange[1], display: false },
        },
        events: [],
      } as any,
      plugins: [leftDecor],
    });

    const lo = Math.pow(10, costAxisLog10[0]);
    const hi = Math.pow(10, costAxisLog10[1]);
    const right = new Chart(rightRef.current, {
      type: 'scatter',
      data: {
        datasets: [
          {
            label: 'Diagonal',
            data: logPts([[costAxisLog10[0], costAxisLog10[0]], [costAxisLog10[1], costAxisLog10[1]]]),
            showLine: true, borderColor: '#000', borderWidth: 1.1, backgroundColor: 'rgba(0,0,0,0)',
            pointStyle: 'crossRot', pointRadius: 8.5, pointBorderWidth: 1.4, pointHoverRadius: 8.5,
            clip: false, order: 0,
          },
          {
            label: 'Costs',
            data: logPts([...nearDiagonal, ...offDiagonal]),
            borderColor: '#000', backgroundColor: 'rgba(0,0,0,0)', borderWidth: 1.4,
            pointStyle: 'crossRot', pointRadius: 8.5, pointHoverRadius: 8.5,
            clip: false, order: 1,
          },
        ] as any,
      },
      options: {
        responsive: false,
        animation: false,
        devicePixelRatio: 1,
        layout: { padding: { left: 129, top: 61, right: 171, bottom: 175.3 }, autoPadding: false },
        plugins: { legend: { display: false }, tooltip: { enabled: false }, title: { display: false } },
        scales: {
          x: { type: 'logarithmic', min: lo, max: hi, display: false },
          y: { type: 'logarithmic', min: lo, max: hi, display: false },
        },
        events: [],
      } as any,
      plugins: [rightDecor],
    });

    return () => {
      left.destroy();
      right.destroy();
    };
  }, []);

  return (
    <div style={{ position: 'absolute', left: 0, top: 0, width: 1904, height: 796, background: '#fff' }}>
      <canvas ref={leftRef} width={952} height={796}
        style={{ position: 'absolute', left: 0, top: 0, width: 952, height: 796, display: 'block' }} />
      <canvas ref={rightRef} width={952} height={796}
        style={{ position: 'absolute', left: 952, top: 0, width: 952, height: 796, display: 'block' }} />
    </div>
  );
}
